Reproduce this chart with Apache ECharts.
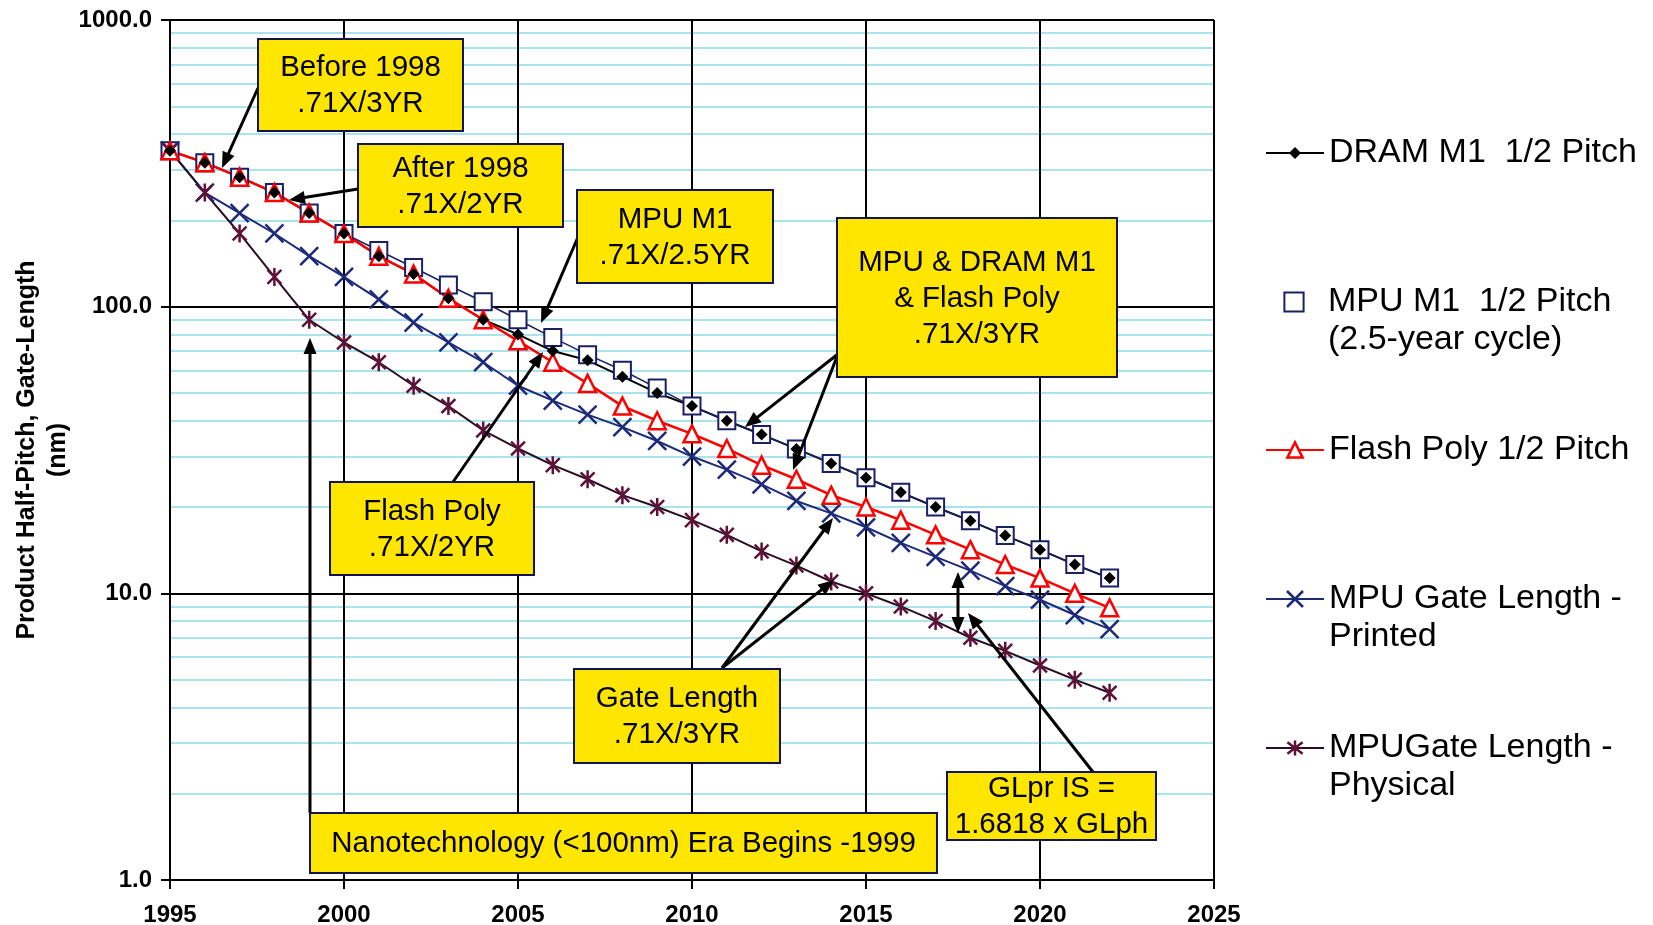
<!DOCTYPE html>
<html>
<head>
<meta charset="utf-8">
<title>Product Technology Trends: Half-Pitch, Gate-Length</title>
<script src="https://cdn.jsdelivr.net/npm/echarts@6/dist/echarts.min.js"></script>
<style>
  html, body { margin: 0; padding: 0; background: #fff; }
  #chart { width: 1653px; height: 925px; }
</style>
</head>
<body>
<div id="chart"></div>
<script>
// ---- data (nm) ----
const years = [1995, 1996, 1997, 1998, 1999, 2000, 2001, 2002, 2003, 2004, 2005, 2006, 2007, 2008,
               2009, 2010, 2011, 2012, 2013, 2014, 2015, 2016, 2017, 2018, 2019, 2020, 2021, 2022];
const dramM1HalfPitch = [350, 318, 283, 250, 212, 180, 150, 130, 107, 90, 80, 70, 65, 57,
                         50, 45, 40, 35.8, 31.9, 28.4, 25.3, 22.5, 20, 17.9, 15.9, 14.2, 12.6, 11.3];
const mpuM1HalfPitch = [350, 318, 283, 250, 212, 180, 157, 137, 119, 104, 90, 78, 68, 60,
                        52, 45, 40, 35.8, 31.9, 28.4, 25.3, 22.5, 20, 17.9, 15.9, 14.2, 12.6, 11.3];
const flashPolyHalfPitch = [350, 318, 283, 250, 212, 180, 150, 130, 107, 90, 76, 64, 54, 45,
                            40, 36, 32, 28, 25, 22, 20, 18, 16, 14.2, 12.6, 11.3, 10, 8.9];
const mpuGatePrinted = [350, 250, 212, 180, 150, 127, 106, 88, 75, 64, 53, 47, 42, 38,
                        34, 30, 27, 24, 21, 19, 17, 15, 13.4, 12, 10.6, 9.5, 8.4, 7.5];
const mpuGatePhysical = [350, 250, 180, 127, 90, 75, 64, 53, 45, 37, 32, 28, 25, 22,
                         20, 18, 16, 14, 12.5, 11, 10, 9, 8, 7, 6.3, 5.6, 5.0, 4.5];

const xTicks = { min: 1995, max: 2025, step: 5 };
const yTicks = { min: 1, max: 1000 };

// ---- series names ----
const N_DRAM = 'DRAM M1  1/2 Pitch';
const N_MPU = 'MPU M1  1/2 Pitch\n(2.5-year cycle)';
const N_FLASH = 'Flash Poly 1/2 Pitch';
const N_PRINTED = 'MPU Gate Length -\nPrinted';
const N_PHYSICAL = 'MPUGate Length -\nPhysical';

const FONT = '"Liberation Sans", Arial, Helvetica, sans-serif';
const pairs = vals => years.map((y, i) => [y, vals[i]]);

// light minor grid lines at 2..9 within every decade
const minorGrid = [];
for (let d = 1; d < yTicks.max; d *= 10) {
  for (let k = 2; k <= 9; k++) minorGrid.push(k * d);
}

const X_MARK = 'path://M0,0L10,10M10,0L0,10';
const STAR_MARK = 'path://M0,0L10,10M10,0L0,10M5,-1.5L5,11.5';

const NAVY = '#1b1f66';
const PRINTED_BLUE = '#1d2a7a';
const MAROON = '#5e1238';

// ---- callout boxes and arrows ----
const callouts = [
  { rect: [258, 39, 205, 92], text: 'Before 1998\n.71X/3YR' },
  { rect: [358, 144, 205, 83], text: 'After 1998\n.71X/2YR' },
  { rect: [577, 190, 196, 93], text: 'MPU M1\n.71X/2.5YR' },
  { rect: [837, 218, 280, 159], text: 'MPU & DRAM M1\n& Flash Poly\n.71X/3YR' },
  { rect: [330, 482, 204, 93], text: 'Flash Poly\n.71X/2YR' },
  { rect: [574, 669, 206, 94], text: 'Gate Length\n.71X/3YR' },
  { rect: [947, 772, 209, 68], text: 'GLpr IS =\n1.6818 x GLph' },
  { rect: [310, 813, 627, 60], text: 'Nanotechnology (<100nm) Era Begins -1999' }
];
const arrows = [
  [258, 88, 222, 168],
  [358, 189, 289, 200],
  [578, 237, 541, 323],
  [838, 354, 745, 427],
  [838, 354, 793, 470],
  [453, 482, 543, 352],
  [722, 668, 833, 518],
  [722, 668, 834, 580],
  [1093, 772, 968, 613],
  [310, 813, 310, 338],
  [958, 603, 958, 572],
  [958, 603, 958, 633]
];

function arrowElements(a) {
  const [x1, y1, x2, y2] = a;
  const dx = x2 - x1, dy = y2 - y1;
  const len = Math.hypot(dx, dy);
  const ux = dx / len, uy = dy / len;
  const px = -uy, py = ux;
  const headLen = 16, headHalf = 6.5;
  const bx = x2 - ux * headLen, by = y2 - uy * headLen;
  return [
    {
      type: 'line', z: 90, silent: true,
      shape: { x1: x1, y1: y1, x2: bx + ux * 2, y2: by + uy * 2 },
      style: { stroke: '#000', lineWidth: 3 }
    },
    {
      type: 'polygon', z: 90, silent: true,
      shape: { points: [[x2, y2], [bx + px * headHalf, by + py * headHalf], [bx - px * headHalf, by - py * headHalf]] },
      style: { fill: '#000' }
    }
  ];
}

const graphicElements = [];
arrows.forEach(a => graphicElements.push(...arrowElements(a)));
callouts.forEach(c => {
  const [x, y, w, h] = c.rect;
  graphicElements.push({
    type: 'rect', z: 100, silent: true,
    shape: { x: x, y: y, width: w, height: h },
    style: { fill: '#ffe600', stroke: '#141450', lineWidth: 2 }
  });
  graphicElements.push({
    type: 'text', z: 101, silent: true,
    style: {
      x: x + w / 2, y: y + h / 2 + 1,
      text: c.text,
      align: 'center', verticalAlign: 'middle',
      fontSize: 29.5, fontFamily: FONT, lineHeight: 36,
      fill: '#000'
    }
  });
});

// ---- legend blocks (one per series, icon aligned with the first text line) ----
const LEGEND_LEFT = 1265;
function legendBlock(name, iconY, twoLines, itemH, extra) {
  const lh = 38;
  const blockHalf = twoLines ? lh * 1.5 : lh / 2;
  return Object.assign({
    data: [name],
    orient: 'vertical',
    left: LEGEND_LEFT,
    top: iconY - blockHalf,
    padding: 0,
    itemWidth: 58,
    itemHeight: itemH,
    selectedMode: false,
    textStyle: { fontSize: 34, fontFamily: FONT, color: '#000', lineHeight: lh },
    formatter: twoLines ? (n => '\n' + n) : (n => n)
  }, extra || {});
}

const chart = echarts.init(document.getElementById('chart'), null, { renderer: 'canvas' });

chart.setOption({
  animation: false,
  backgroundColor: '#fff',
  grid: { left: 170, right: 439, top: 20, bottom: 45, containLabel: false, outerBoundsMode: 'none' },
  xAxis: {
    type: 'value',
    min: xTicks.min, max: xTicks.max, interval: xTicks.step,
    axisLine: { show: true, onZero: false, lineStyle: { color: '#000', width: 2 } },
    axisTick: { show: true, length: 9, lineStyle: { color: '#000', width: 2 } },
    axisLabel: {
      color: '#000', fontSize: 24, fontWeight: 'bold', fontFamily: FONT, margin: 23,
      formatter: v => String(v)
    },
    splitLine: { show: true, lineStyle: { color: '#000', width: 2 } }
  },
  yAxis: {
    type: 'log', logBase: 10,
    min: yTicks.min, max: yTicks.max,
    axisLine: { show: true, lineStyle: { color: '#000', width: 2 } },
    axisTick: { show: true, length: 9, lineStyle: { color: '#000', width: 2 } },
    axisLabel: {
      color: '#000', fontSize: 24, fontWeight: 'bold', fontFamily: FONT, margin: 18,
      formatter: v => Number(v).toFixed(1)
    },
    splitLine: { show: true, lineStyle: { color: '#000', width: 2 } },
    name: 'Product Half-Pitch, Gate-Length\n(nm)',
    nameLocation: 'middle',
    nameRotate: 90,
    nameGap: 96,
    nameMoveOverlap: false,
    nameTextStyle: { color: '#000', fontSize: 25, fontWeight: 'bold', fontFamily: FONT, lineHeight: 31, align: 'center' }
  },
  legend: [
    legendBlock(N_DRAM, 153, false, 15, { itemStyle: { borderWidth: 0 } }),
    legendBlock(N_MPU, 302, true, 24, { lineStyle: { width: 0, opacity: 0 }, itemStyle: { borderWidth: 2 } }),
    legendBlock(N_FLASH, 450, false, 19, { itemStyle: { borderWidth: 2.5 } }),
    legendBlock(N_PRINTED, 599, true, 20, { itemStyle: { borderWidth: 2.5 } }),
    legendBlock(N_PHYSICAL, 748, true, 19, { itemStyle: { borderWidth: 2.5 } })
  ],
  tooltip: { show: false },
  series: [
    {
      // minor log grid
      name: 'minor-grid', type: 'line', data: [], silent: true, z: -1,
      markLine: {
        silent: true, z: -1, symbol: 'none', animation: false,
        label: { show: false },
        emphasis: { disabled: true },
        lineStyle: { color: '#a9e3ee', width: 2, type: 'solid' },
        data: minorGrid.map(v => ({ yAxis: v }))
      }
    },
    {
      name: N_DRAM, type: 'line', data: pairs(dramM1HalfPitch),
      showSymbol: false, symbol: 'diamond', symbolSize: 11,
      lineStyle: { color: '#000', width: 2 },
      itemStyle: { color: '#000' },
      emphasis: { disabled: true }
    },
    {
      name: N_MPU, type: 'line', data: pairs(mpuM1HalfPitch),
      symbol: 'rect', symbolSize: 17,
      lineStyle: { color: NAVY, width: 1.5 },
      itemStyle: { color: '#fff', borderColor: NAVY, borderWidth: 2 },
      emphasis: { disabled: true }
    },
    {
      name: N_PRINTED, type: 'line', data: pairs(mpuGatePrinted),
      symbol: X_MARK, symbolSize: 18, symbolKeepAspect: true,
      lineStyle: { color: PRINTED_BLUE, width: 2 },
      itemStyle: { color: PRINTED_BLUE, borderColor: PRINTED_BLUE, borderWidth: 2.5 },
      emphasis: { disabled: true }
    },
    {
      name: N_PHYSICAL, type: 'line', data: pairs(mpuGatePhysical),
      symbol: STAR_MARK, symbolSize: 18, symbolKeepAspect: true,
      lineStyle: { color: '#2a0f22', width: 2 },
      itemStyle: { color: MAROON, borderColor: MAROON, borderWidth: 2.5 },
      emphasis: { disabled: true }
    },
    {
      name: N_FLASH, type: 'line', data: pairs(flashPolyHalfPitch),
      symbol: 'triangle', symbolSize: 17,
      lineStyle: { color: '#ff0000', width: 2.5 },
      itemStyle: { color: '#fff', borderColor: '#ff0000', borderWidth: 2.5 },
      emphasis: { disabled: true }
    },
    {
      // DRAM point markers, drawn above the other series
      name: 'DRAM M1 markers', type: 'scatter', data: pairs(dramM1HalfPitch),
      symbol: 'diamond', symbolSize: 12, z: 6,
      itemStyle: { color: '#000', opacity: 1 },
      emphasis: { disabled: true }
    }
  ],
  graphic: { elements: graphicElements }
});
</script>
</body>
</html>
